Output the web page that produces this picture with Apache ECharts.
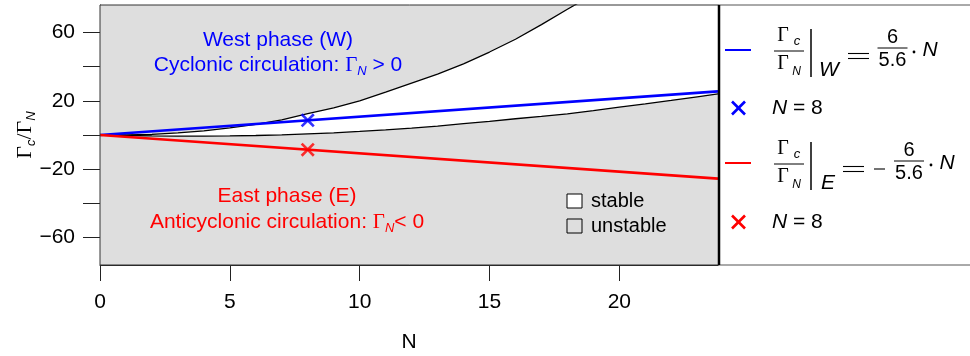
<!DOCTYPE html>
<html>
<head>
<meta charset="utf-8">
<script src="https://cdn.jsdelivr.net/npm/echarts@6/dist/echarts.min.js"></script>
<style>
html,body{margin:0;padding:0;background:#fff;}
#chart{width:970px;height:356px;}
</style>
</head>
<body>
<div id="chart"></div>
<script>
// ---- data ----
const upperN    = [0, 1, 2, 3, 4, 5, 6, 7, 8, 9, 10, 11, 12, 13, 14, 15, 16, 17, 18, 18.4];
const upperVals = [0, 0.0, 0.4, 1.2, 2.4, 4.2, 6.2, 8.8, 12.5, 15.8, 19.9, 25.0, 30.3, 35.6, 41.6, 48.5, 56.0, 64.5, 73.5, 77.0];
const lowerN    = [0, 1, 2, 3, 4, 5, 6, 7, 8, 9, 10, 11, 12, 13, 14, 15, 16, 17, 18, 19, 20, 21, 22, 23, 23.8];
const lowerVals = [0, -0.3, -0.5, -0.6, -0.6, -0.5, -0.3, 0.1, 0.7, 1.3, 2.1, 3.0, 4.0, 5.2, 6.6, 8.0, 9.5, 10.9, 12.4, 14.3, 16.3, 18.2, 20.2, 22.3, 24.0];
const westN     = [0, 23.8];
const westVals  = [0, 25.5];
const eastN     = [0, 23.8];
const eastVals  = [0, -25.5];
const markN     = [8];
const westMark  = [8.57];
const eastMark  = [-8.57];
const xTicks    = [0, 5, 10, 15, 20];
const yTicks    = [-60, -40, -20, 0, 20, 40, 60];
const yLabels   = [-60, -20, 20, 60];

// ---- styling ----
const GRAY = '#dedede';
const BLUE = '#0000ff';
const RED  = '#ff0000';
const SANS = '"Liberation Sans", Arial, sans-serif';
const SERIF = '"Liberation Serif", "DejaVu Serif", serif';
const zip = (a, b) => a.map((v, i) => [v, b[i]]);
const XPATH = 'path://M0,1.6 L1.6,0 L6,4.4 L10.4,0 L12,1.6 L7.6,6 L12,10.4 L10.4,12 L6,7.6 L1.6,12 L0,10.4 L4.4,6 Z';

function txt(x, y, text, font, fill, align, rich) {
  const st = {text: text, font: font, fill: fill || '#000',
    textAlign: align || 'center', textVerticalAlign: 'middle',
    align: align || 'center', verticalAlign: 'middle'};
  if (rich) st.rich = rich;
  return {type: 'text', x: x, y: y, z: 100, silent: true, style: st};
}
function ln(x1, y1, x2, y2, color, w) {
  return {type: 'line', z: 100, silent: true, shape: {x1, y1, x2, y2},
    style: {stroke: color || '#000', lineWidth: w || 1}};
}
const subRich = {
  g: {fontFamily: SERIF, fontSize: 21, lineHeight: 26, verticalAlign: 'middle'},
  s: {fontFamily: SANS, fontStyle: 'italic', fontSize: 13, lineHeight: 14, verticalAlign: 'bottom'},
  t: {fontFamily: SANS, fontSize: 21, lineHeight: 26, verticalAlign: 'middle'}
};
function richFor(color) {
  const r = {};
  for (const k in subRich) r[k] = Object.assign({color: color}, subRich[k]);
  return r;
}

const graphics = [];
// plot frame + legend box
graphics.push({type: 'rect', z: 90, silent: true, shape: {x: 100, y: 5, width: 619, height: 260},
  style: {fill: 'none', stroke: '#333', lineWidth: 1}});
graphics.push({type: 'rect', z: 90, silent: true, shape: {x: 719, y: 5, width: 270, height: 260},
  style: {fill: '#fff', stroke: '#555', lineWidth: 1}});
graphics.push(ln(719, 5, 719, 265, '#000', 2.5));

// annotations in the plot
graphics.push(txt(278, 40, 'West phase (W)', '21px ' + SANS, BLUE));
graphics.push(txt(278, 65, '{t|Cyclonic circulation: }{g|Γ}{s|N}{t| > 0}', '21px ' + SANS, BLUE, 'center', richFor(BLUE)));
graphics.push(txt(287, 196, 'East phase (E)', '21px ' + SANS, RED));
graphics.push(txt(287, 222, '{t|Anticyclonic circulation: }{g|Γ}{s|N}{t|< 0}', '21px ' + SANS, RED, 'center', richFor(RED)));

// stable / unstable key
graphics.push({type: 'rect', z: 100, silent: true, shape: {x: 567, y: 194, width: 15, height: 14},
  style: {fill: '#fff', stroke: '#000', lineWidth: 1}});
graphics.push({type: 'rect', z: 100, silent: true, shape: {x: 567, y: 219, width: 15, height: 14},
  style: {fill: GRAY, stroke: '#000', lineWidth: 1}});
graphics.push(txt(591, 201.5, 'stable', '20px ' + SANS, '#000', 'left'));
graphics.push(txt(591, 226.5, 'unstable', '20px ' + SANS, '#000', 'left'));

// legend formulas
function formula(dy, color, subLetter, subX, eqX, minusX, fracX, dotX, nX) {
  graphics.push(ln(725, 50 + dy, 751, 50 + dy, color, 2));
  graphics.push(txt(783, 36 + dy, 'Γ', '20px ' + SERIF));
  graphics.push(txt(797, 41 + dy, 'c', 'italic 13px ' + SANS));
  graphics.push(ln(774, 51 + dy, 804, 51 + dy, '#000', 1));
  graphics.push(txt(783, 63.5 + dy, 'Γ', '20px ' + SERIF));
  graphics.push(txt(796.5, 72 + dy, 'N', 'italic 12px ' + SANS));
  graphics.push(ln(811, 29 + dy, 811, 77 + dy, '#000', 1.5));
  graphics.push(txt(subX, 70.5 + dy, subLetter, 'italic 21px ' + SANS));
  graphics.push(ln(eqX, 53.5 + dy, eqX + 21, 53.5 + dy, '#000', 1.1));
  graphics.push(ln(eqX, 58.5 + dy, eqX + 21, 58.5 + dy, '#000', 1.1));
  if (minusX) graphics.push(ln(minusX, 56 + dy, minusX + 11, 56 + dy, '#000', 1.1));
  graphics.push(txt(fracX, 37 + dy, '6', '20px ' + SANS));
  graphics.push(ln(fracX - 15, 48 + dy, fracX + 15, 48 + dy, '#000', 1));
  graphics.push(txt(fracX, 60.5 + dy, '5.6', '20px ' + SANS));
  graphics.push({type: 'circle', z: 100, silent: true, shape: {cx: dotX, cy: 52 + dy, r: 1.4}, style: {fill: '#000'}});
  graphics.push(txt(nX, 50.5 + dy, 'N', 'italic 21px ' + SANS));
}
formula(0, BLUE, 'W', 829, 848, null, 892.5, 914, 930);
formula(113, RED, 'E', 828, 843, 874, 909, 931, 947);

function cross(cx, cy, color) {
  graphics.push(ln(cx - 6.5, cy - 6.5, cx + 6.5, cy + 6.5, color, 2.6));
  graphics.push(ln(cx - 6.5, cy + 6.5, cx + 6.5, cy - 6.5, color, 2.6));
}
const nRich = {
  i: {fontFamily: SANS, fontStyle: 'italic', fontSize: 21, color: '#000'},
  r: {fontFamily: SANS, fontSize: 21, color: '#000'}
};
cross(738.5, 108, BLUE);
graphics.push(txt(772, 108, '{i|N}{r| = 8}', '21px ' + SANS, '#000', 'left', nRich));
cross(738.5, 222, RED);
graphics.push(txt(772, 222, '{i|N}{r| = 8}', '21px ' + SANS, '#000', 'left', nRich));

const chart = echarts.init(document.getElementById('chart'), null, {renderer: 'canvas'});
chart.setOption({
  animation: false,
  backgroundColor: '#fff',
  grid: {left: 100, top: 5, width: 618, height: 260, show: false, containLabel: false, outerBoundsMode: 'none'},
  xAxis: {
    type: 'value', min: 0, max: 23.8,
    axisLine: {show: true, onZero: false, lineStyle: {color: '#222', width: 1}},
    axisTick: {show: true, length: 16, lineStyle: {color: '#222', width: 1}, customValues: xTicks},
    axisLabel: {customValues: xTicks, margin: 27, fontSize: 21, color: '#000', fontFamily: SANS},
    splitLine: {show: false},
    name: 'N', nameLocation: 'middle', nameGap: 67, nameMoveOverlap: false,
    nameTextStyle: {fontSize: 21, color: '#000', fontFamily: SANS}
  },
  yAxis: {
    type: 'value', min: -76, max: 76,
    axisLine: {show: true, onZero: false, lineStyle: {color: '#222', width: 1}},
    axisTick: {show: true, length: 17, lineStyle: {color: '#222', width: 1}, customValues: yTicks},
    axisLabel: {customValues: yLabels, margin: 25, fontSize: 21, color: '#000', fontFamily: SANS,
      formatter: v => String(v).replace('-', '\u2212')},
    splitLine: {show: false},
    name: '{g|Γ}{s|c}{g|/Γ}{s|N}', nameLocation: 'middle', nameRotate: 90, nameGap: 62, nameMoveOverlap: false,
    nameTextStyle: {color: '#000', rich: {
      g: {fontFamily: SERIF, fontSize: 22, lineHeight: 26, color: '#000', verticalAlign: 'middle'},
      s: {fontFamily: SANS, fontStyle: 'italic', fontSize: 13, lineHeight: 14, color: '#000', verticalAlign: 'bottom'}
    }}
  },
  series: [
    {type: 'line', data: zip(lowerN, lowerVals), symbol: 'none', smooth: false,
      lineStyle: {color: '#000', width: 1.3}, areaStyle: {color: GRAY, opacity: 1, origin: 'start'}, z: 1},
    {type: 'line', data: zip(upperN, upperVals), symbol: 'none', smooth: false,
      lineStyle: {color: '#000', width: 1.3}, areaStyle: {color: GRAY, opacity: 1, origin: 'end'}, z: 1},
    {type: 'line', data: zip(westN, westVals), symbol: 'none', lineStyle: {color: BLUE, width: 2.6}, z: 3},
    {type: 'line', data: zip(eastN, eastVals), symbol: 'none', lineStyle: {color: RED, width: 2.6}, z: 3},
    {type: 'scatter', data: zip(markN, westMark), symbol: XPATH, symbolSize: 14, itemStyle: {color: BLUE}, z: 4},
    {type: 'scatter', data: zip(markN, eastMark), symbol: XPATH, symbolSize: 14, itemStyle: {color: RED}, z: 4}
  ],
  graphic: graphics
});
</script>
</body>
</html>
